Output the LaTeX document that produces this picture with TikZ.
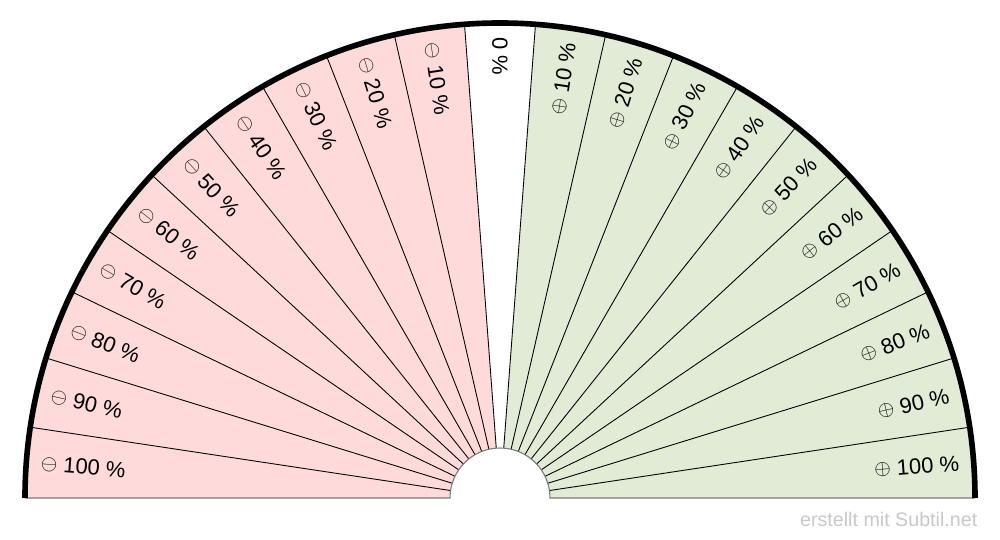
\documentclass[tikz,border=0pt]{standalone}
\usepackage{fontspec}
\setmainfont{Liberation Sans}
\usetikzlibrary{calc}

\definecolor{minusfill}{RGB}{255,218,218}
\definecolor{plusfill}{RGB}{225,235,214}
\definecolor{creditgray}{RGB}{200,200,200}
\definecolor{edgegray}{RGB}{120,120,120}

\tikzset{
    minuslabel/.style={anchor=west, inner sep=0pt, font=\fontsize{12.5}{14}\selectfont},
    pluslabel/.style={anchor=east, inner sep=0pt, font=\fontsize{12.5}{14}\selectfont},
    spoke/.style={line width=0.5pt, black},
}
\newcommand{\sgn}[1]{\raisebox{1.0pt}{\fontsize{13}{13}\selectfont$#1$}}

\begin{document}
\begin{tikzpicture}[thick]

    \useasboundingbox (-10,-0.84) rectangle (10,9.96);

    % --- Coordinates ---
    \coordinate (M) at (0,0);
    \def\w{8.5714}
    \def\rin{1}
    \def\rout{9.5}
    \def\rtxt{9.22}

    % --- Sectors ---
    \foreach \n in {1,...,10} {
        \pgfmathsetmacro{\a}{90-\n*\w-\w/2}
        \pgfmathsetmacro{\b}{90-\n*\w+\w/2}
        \fill[plusfill] (\a:\rin) -- (\a:\rout) arc[start angle=\a, end angle=\b, radius=\rout]
            -- (\b:\rin) arc[start angle=\b, end angle=\a, radius=\rin] -- cycle;
        \pgfmathsetmacro{\c}{90+\n*\w-\w/2}
        \pgfmathsetmacro{\d}{90+\n*\w+\w/2}
        \fill[minusfill] (\c:\rin) -- (\c:\rout) arc[start angle=\c, end angle=\d, radius=\rout]
            -- (\d:\rin) arc[start angle=\d, end angle=\c, radius=\rin] -- cycle;
    }

    % --- Spokes ---
    \foreach \k in {1,...,20}
        \draw[spoke] (\k*\w:\rin) -- (\k*\w:\rout);

    % --- Edges ---
    \draw[line width=0.6pt, edgegray] (-\rout,0) -- (-\rin,0)
        arc[start angle=180, end angle=0, radius=\rin] -- (\rout,0);
    \draw[line width=3.2pt, black] (\rout,0) arc[start angle=0, end angle=180, radius=\rout];

    % --- Labels ---
    \node[minuslabel, rotate=-90] (p0) at (90:\rtxt) {0 \%};
    \foreach \n in {1,...,10} {
        \pgfmathtruncatemacro{\pct}{10*\n}
        \node[pluslabel, rotate=90-\n*\w] (plus\n) at (90-\n*\w:\rtxt) {\sgn{\oplus} \pct\ \%};
        \node[minuslabel, rotate=\n*\w-90] (minus\n) at (90+\n*\w:\rtxt) {\sgn{\ominus} \pct\ \%};
    }

    % --- Credit ---
    \node[anchor=base east, inner sep=0pt, text=creditgray, font=\fontsize{11.2}{12}\selectfont]
        (credit) at (9.56,-0.58) {erstellt mit Subtil.net};

\end{tikzpicture}
\end{document}
